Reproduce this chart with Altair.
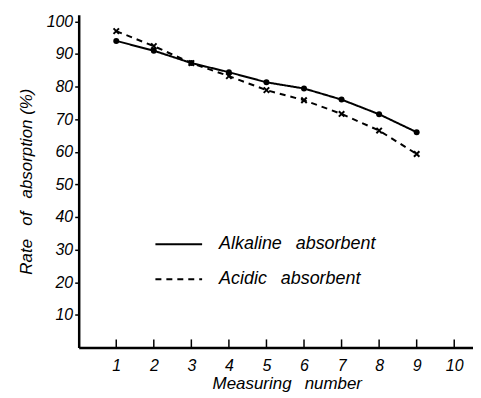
import altair as alt
import pandas as pd

measuring = [1, 2, 3, 4, 5, 6, 7, 8, 9]
alkaline = [94, 91, 87.2, 84.4, 81.3, 79.4, 76, 71.5, 66]
acidic = [97, 92.4, 87.2, 83.2, 78.9, 75.8, 71.6, 66.5, 59.3]
series_names = ["Alkaline\u2002 absorbent", "Acidic\u2002 absorbent"]
x_ticks = [1, 2, 3, 4, 5, 6, 7, 8, 9, 10]
y_ticks = [10, 20, 30, 40, 50, 60, 70, 80, 90, 100]
x_title = "Measuring\u2002 number"
y_title = "Rate\u2002 of\u2002 absorption (%)"

rows = []
for m, a, c in zip(measuring, alkaline, acidic):
    rows.append({"n": m, "rate": a, "series": series_names[0]})
    rows.append({"n": m, "rate": c, "series": series_names[1]})
df = pd.DataFrame(rows)
ticks_df = pd.DataFrame({"n": x_ticks, "rate": [0] * len(x_ticks)})

FONT = "Liberation Sans"

xscale = alt.Scale(domain=[0, 10.5], nice=False, zero=True)
yscale = alt.Scale(domain=[0, 102], nice=False, zero=True)

x_axis = alt.Axis(values=x_ticks, title=x_title, ticks=False, labelPadding=10,
                  titlePadding=2, titleX=209, grid=False, labelOverlap=False,
                  titleFontSize=17)
y_axis = alt.Axis(values=y_ticks, title=y_title, tickSize=4, labelPadding=2,
                  titlePadding=11, grid=False, labelOverlap=False, titleFontSize=17)


def xe():
    return alt.X("n:Q", scale=xscale, axis=x_axis)


def ye():
    return alt.Y("rate:Q", scale=yscale, axis=y_axis)


lines = alt.Chart(df).mark_line(color="black", strokeWidth=2).encode(
    x=xe(), y=ye(),
    strokeDash=alt.StrokeDash("series:N", scale=alt.Scale(
        domain=series_names, range=[[1, 0], [6, 5]]),
        legend=alt.Legend(title=None, orient="none", legendX=76, legendY=206,
                          symbolType="stroke", symbolSize=2200, symbolStrokeWidth=2,
                          symbolStrokeColor="black", labelOffset=16, rowPadding=1,
                          labelFontSize=18, labelFont=FONT, labelColor="black",
                          labelFontStyle="italic", labelLimit=400)),
)

dots = alt.Chart(df).transform_filter(
    alt.datum.series == series_names[0]
).mark_point(filled=True, shape="circle", size=36, color="black", opacity=1).encode(
    x=xe(), y=ye())

crosses = alt.Chart(df).transform_filter(
    alt.datum.series == series_names[1]
).mark_point(shape="M-1,-1L1,1M-1,1L1,-1", size=30, color="black",
             strokeWidth=2, filled=False, opacity=1).encode(
    x=xe(), y=ye())

xt = alt.Chart(ticks_df).mark_tick(color="black", thickness=1.5, size=8,
                                   yOffset=-4, orient="vertical", opacity=1).encode(
    x=xe(), y=ye())

chart = alt.layer(lines, dots, crosses, xt).properties(
    width=396, height=334,
    background="white",
    autosize=alt.AutoSizeParams(type="none"),
    padding={"left": 71, "top": 6, "right": 0, "bottom": 52},
).configure_view(stroke=None).configure_axis(
    domainColor="black", domainWidth=2.5, tickColor="black", tickWidth=1.5,
    labelFont=FONT, labelFontSize=16, labelColor="black", labelFontStyle="italic",
    titleFont=FONT, titleFontSize=16, titleColor="black", titleFontStyle="italic",
    titleFontWeight="normal", labelOverlap=False,
)

chart.save("out.html", embed_options={"renderer": "svg", "actions": False})
